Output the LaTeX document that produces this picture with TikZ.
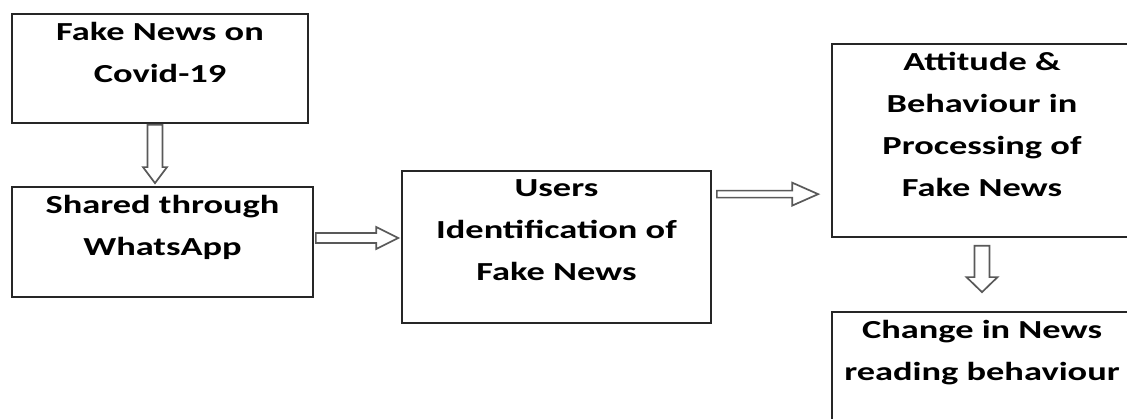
\documentclass[tikz,border=0pt]{standalone}
\usepackage{fontspec}
\newfontfamily\boxfont{Carlito}[FakeStretch=1.4]
\usetikzlibrary{positioning,calc}

\tikzset{
  box/.style={draw=black!85, line width=1.7pt, inner sep=0pt},
  boxtext/.style={font=\boxfont\bfseries\fontsize{26}{42}\selectfont, align=center, inner sep=0pt},
  blockline/.style={draw=black!65, fill=white, line width=1.7pt, line join=miter},
  rarrow/.style n args={3}{blockline, to path={let \p1=(\tikztostart), \p2=(\tikztotarget) in
    (\x1,\y1+#1) -- (\x2-#3,\y1+#1) -- (\x2-#3,\y1+#2) -- (\x2,\y1) -- (\x2-#3,\y1-#2) -- (\x2-#3,\y1-#1) -- (\x1,\y1-#1) -- cycle}},
  darrow/.style n args={3}{blockline, to path={let \p1=(\tikztostart), \p2=(\tikztotarget) in
    (\x1-#1,\y1) -- (\x1-#1,\y2+#3) -- (\x1-#2,\y2+#3) -- (\x1,\y2) -- (\x1+#2,\y2+#3) -- (\x1+#1,\y2+#3) -- (\x1+#1,\y1) -- cycle}}
}

\begin{document}
\begin{tikzpicture}[x=1pt, y=-1pt]
  \useasboundingbox (0,0) rectangle (1127,419);
  \clip (0,0) rectangle (1127,419);
  \fill[white] (0,0) rectangle (1127,419);

  % boxes
  \node[box, minimum width=296pt, minimum height=109pt] (news) at (160,68.5) {};
  \node[box, minimum width=301pt, minimum height=110pt] (ws) at (162.5,242) {};
  \node[box, minimum width=309pt, minimum height=152pt] (ident) at (556.5,247) {};
  \node[box, minimum width=300pt, minimum height=193pt] (att) at (982,140.5) {};
  \node[box, minimum width=300pt, minimum height=110pt] (change) at (982,367) {};

  % texts
  \node[boxtext, below=9pt of news.north] (newst) {Fake News on\\Covid-19};
  \node[boxtext, below=9pt of ws.north] (wst) {Shared through\\WhatsApp};
  \node[boxtext, below=9pt of ident.north] (identt) {Users\\Identification of\\Fake News};
  \node[boxtext, below=9pt of att.north] (attt) {Attitude \&\\Behaviour in\\Processing of\\Fake News};
  \node[boxtext, below=9pt of change.north] (changet) {Change in News\\reading behaviour};

  % arrows
  \draw[darrow={7.5pt}{12pt}{16pt}] ($(news.south)+(-5,1)$) to ($(ws.north)+(-7,-3)$);
  \draw[rarrow={5pt}{11pt}{22pt}] ($(ws.east)+(2,-4)$) to ($(ident.west)+(-3,-4)$);
  \draw[rarrow={3.5pt}{11.5pt}{26pt}] ($(ident.north east)+(5,24)$) to ($(att.west)+(-13,0)$);
  \draw[darrow={7.5pt}{15.5pt}{15pt}] ($(att.south)+(0,8)$) to ($(change.north)+(0,-19)$);
\end{tikzpicture}
\end{document}
